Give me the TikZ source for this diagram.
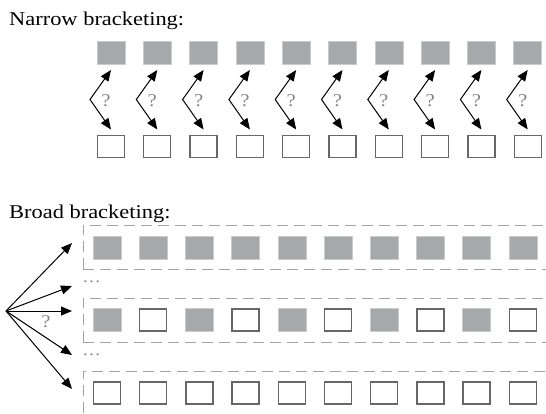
\documentclass[tikz,border=0pt]{standalone}
\usepackage{fontspec}
\setmainfont[FakeStretch=1.15]{Liberation Serif}
\usetikzlibrary{arrows.meta,calc}
\definecolor{boxgray}{HTML}{A7A8AA}
\definecolor{edgegray}{HTML}{C9CACC}
\definecolor{framegray}{HTML}{676767}
\definecolor{dashgray}{HTML}{A3A3A3}
\definecolor{qgray}{HTML}{858585}
\begin{document}
\begin{tikzpicture}[x=1pt,y=-1pt,
  >={Triangle[length=11pt,width=9pt]},
  filled/.style={draw=edgegray, line width=0.6pt, fill=boxgray,
    minimum width=28pt, minimum height=23pt, inner sep=0pt, outer sep=0pt},
  empty/.style={draw=framegray, line width=1.3pt, fill=white,
    minimum width=27pt, minimum height=22pt, inner sep=0pt, outer sep=0pt},
  link/.style={line width=1pt, black},
  qmark/.style={text=qgray, font=\fontsize{18}{18}\selectfont, inner sep=0pt},
  lane/.style={draw=dashgray, line width=1pt, dash pattern=on 11pt off 6pt},
  ellip/.style={text=qgray, font=\fontsize{16}{16}\selectfont, inner sep=0pt},
  heading/.style={font=\fontsize{19.5}{22}\selectfont, anchor=base west, inner sep=0pt}]
\useasboundingbox (0,0) rectangle (546,413);

% ---------- narrow bracketing ----------
\node[heading] (t1) at (9,25) {Narrow bracketing:};
\foreach \i in {0,...,9}{
  \pgfmathsetmacro\cx{111+46.3*\i}
  \node[filled] (nt\i) at (\cx,52.5) {};
  \node[empty]  (nb\i) at (\cx,146.5) {};
  \coordinate (na\i) at (\cx-21,99.5);
  \draw[link,<->] ($(nt\i.south)+(0,6)$) -- (na\i) -- ($(nb\i.north)+(0,-6)$);
  \node[qmark] (nq\i) at (\cx-5,101) {?};
}

% ---------- broad bracketing ----------
\node[heading] (t2) at (9,218) {Broad bracketing:};

% dashed lanes, open to the right
\draw[lane] (83,269) -- (83,225) -- (546,225);
\draw[lane] (83,269) -- (546,269);
\draw[lane] (83,342) -- (83,298) -- (546,298);
\draw[lane] (83,342) -- (546,342);
\draw[lane] (83,413) -- (83,371) -- (546,371);

\node[ellip] (d1) at (91.5,282) {\dots};
\node[ellip] (d2) at (91.5,355) {\dots};

\foreach \i in {0,...,9}{
  \pgfmathsetmacro\cx{107+46.2*\i}
  \node[filled] (ba\i) at (\cx,247.5) {};
  \pgfmathtruncatemacro\odd{mod(\i,2)}
  \ifnum\odd=0
    \node[filled] (bb\i) at (\cx,320) {};
  \else
    \node[empty] (bb\i) at (\cx,320) {};
  \fi
  \node[empty] (bc\i) at (\cx,393) {};
}

% fan of choices
\coordinate (bo) at (6,311);
\coordinate (bt1) at (72,243);
\coordinate (bt2) at (72,286);
\coordinate (bt3) at (72,311);
\coordinate (bt4) at (72,355);
\coordinate (bt5) at (72,389);
\foreach \k in {1,...,5}{
  \draw[link,->] (bo) -- (bt\k);
}
\node[qmark] (bq) at (46,322) {?};
\end{tikzpicture}
\end{document}
